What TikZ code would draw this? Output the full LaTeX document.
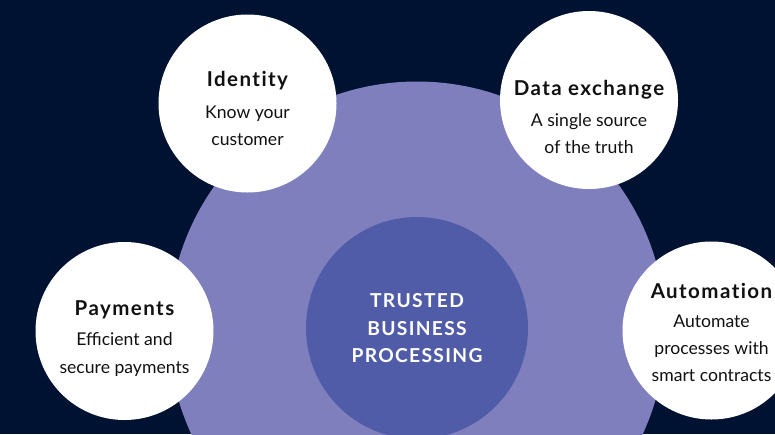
\documentclass[tikz,border=0pt]{standalone}
\usepackage{fontspec}
\setmainfont{Lato}
\newfontfamily\headfont[LetterSpace=7, Ligatures={NoCommon,NoRare}]{Lato}
\definecolor{navy}{HTML}{001231}
\definecolor{hubpurple}{HTML}{7F7FBD}
\definecolor{corepurple}{HTML}{515CA8}
\definecolor{inkdark}{HTML}{111111}
\tikzset{
  disc/.style={circle, inner sep=0pt, draw=none},
  feature/.style={disc, fill=white, minimum size=178pt},
  title/.style={anchor=base, text=inkdark, font=\headfont\bfseries\fontsize{20.5}{24}\selectfont},
  body/.style={anchor=base, text=inkdark, font=\fontsize{17.6}{21}\selectfont},
  coretext/.style={anchor=base, text=white, font=\headfont\bfseries\fontsize{19.2}{22}\selectfont},
}
\begin{document}
\begin{tikzpicture}[x=1pt,y=-1pt]
  \fill[navy] (0,0) rectangle (775,434);
  \useasboundingbox (0,0) rectangle (775,434);
  \clip (0,0) rectangle (775,434);

  % central hub and core
  \node[disc, fill=hubpurple, minimum size=497pt] (hub) at (417,330) {};
  \node[disc, fill=corepurple, minimum size=222pt] (core) at (417,328) {};
  \node[coretext] (c1) at (417,307) {TRUSTED};
  \node[coretext] (c2) at (417,335) {BUSINESS};
  \node[coretext] (c3) at (417,362) {PROCESSING};

  % Identity
  \node[feature] (identity) at (247.5,103.5) {};
  \node[title] (idt) at (247.5,86) {Identity};
  \node[body] (idb1) at (247.5,118) {Know your};
  \node[body] (idb2) at (247.5,145) {customer};

  % Data exchange
  \node[feature] (data) at (589,100) {};
  \node[title] (dat) at (589,95) {Data exchange};
  \node[body] (dab1) at (589,126) {A single source};
  \node[body] (dab2) at (589,153) {of the truth};

  % Payments
  \node[feature] (pay) at (124.5,331) {};
  \node[title] (pat) at (124.5,315) {Payments};
  \node[body] (pab1) at (124.5,345) {Efficient and};
  \node[body] (pab2) at (124.5,373) {secure payments};

  % Automation
  \node[feature] (auto) at (711.5,330.5) {};
  \node[title] (aut) at (711.5,298) {Automation};
  \node[body] (aub1) at (711.5,327) {Automate};
  \node[body] (aub2) at (711.5,354) {processes with};
  \node[body] (aub3) at (711.5,381) {smart contracts};
\end{tikzpicture}
\end{document}
